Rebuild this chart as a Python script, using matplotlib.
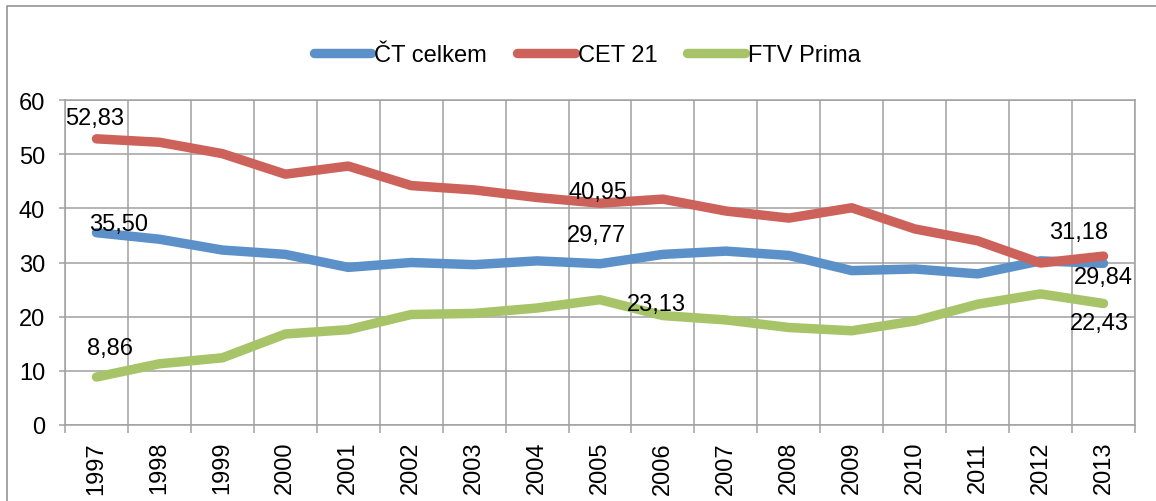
import matplotlib
matplotlib.use("Agg")
import matplotlib.pyplot as plt
from matplotlib.patches import Rectangle
from matplotlib.ticker import FixedLocator

plt.rcParams['font.family'] = ['Liberation Sans', 'DejaVu Sans']

years = ['1997', '1998', '1999', '2000', '2001', '2002', '2003', '2004', '2005',
         '2006', '2007', '2008', '2009', '2010', '2011', '2012', '2013']
ct_celkem = [35.50, 34.3, 32.3, 31.5, 29.1, 30.0, 29.6, 30.3, 29.77,
             31.5, 32.1, 31.3, 28.5, 28.8, 27.9, 30.3, 29.84]
cet21 = [52.83, 52.2, 50.1, 46.3, 47.8, 44.2, 43.4, 42.0, 40.95,
         41.7, 39.5, 38.2, 40.1, 36.2, 34.0, 29.9, 31.18]
ftv_prima = [8.86, 11.3, 12.4, 16.8, 17.6, 20.4, 20.6, 21.6, 23.13,
             20.2, 19.4, 18.0, 17.4, 19.2, 22.3, 24.2, 22.43]
series_names = ['ČT celkem', 'CET 21', 'FTV Prima']
colors = ['#5B90C9', '#CD625A', '#A7C469']

# labelled points: (series index, category index, text, dx px, dy px (center))
labels = [
    (1, 0, '52,83', -2, 23),
    (0, 0, '35,50', 22, 11),
    (2, 0, '8,86', 14, 31.5),
    (1, 8, '40,95', -2, 14),
    (0, 8, '29,77', -3, 31),
    (2, 8, '23,13', 56.5, -1.5),
    (1, 16, '31,18', -25, 26.7),
    (0, 16, '29,84', 0, -10.7),
    (2, 16, '22,43', -4, -17),
]

W, H = 1156, 502
fig = plt.figure(figsize=(W / 100, H / 100), dpi=100)
fig.patch.set_facecolor('white')

ax = fig.add_axes([65 / W, 1 - 426 / H, 1070 / W, 325 / H])
x = list(range(len(years)))
data = [ct_celkem, cet21, ftv_prima]
for vals, name, c in zip(data, series_names, colors):
    ax.plot(x, vals, color=c, lw=6.8, solid_capstyle='round',
            solid_joinstyle='round', label=name, zorder=3)

FS = 17
for si, ci, txt, dx, dy in labels:
    ax.annotate(txt, (x[ci], data[si][ci]), xytext=(dx, dy - 8.5),
                textcoords='offset pixels', ha='center', va='baseline',
                fontsize=FS, color='black', zorder=5)

ax.set_xlim(-0.5, len(years) - 0.5)
ax.set_ylim(0, 60)
ax.set_yticks(range(0, 61, 10))
ax.set_xticks(x)
ax.set_xticklabels(years, rotation=90)
ax.xaxis.set_minor_locator(FixedLocator([i - 0.5 for i in range(len(years) + 1)]))

gc = '#A0A0A0'
ax.grid(True, which='major', axis='y', color=gc, lw=1.1, zorder=1)
ax.grid(True, which='minor', axis='x', color=gc, lw=1.1, zorder=1)
for s in ax.spines.values():
    s.set_color(gc)
    s.set_linewidth(1.1)
    s.set_zorder(1)

ax.tick_params(axis='y', which='major', length=4.3, width=1.1, color=gc,
               pad=10, labelsize=FS, labelcolor='black')
ax.tick_params(axis='x', which='major', length=0, pad=11.5,
               labelsize=FS, labelcolor='black')
ax.tick_params(axis='x', which='minor', length=5.8, width=1.1, color=gc)

handles, lbls = ax.get_legend_handles_labels()
fig.legend(handles, lbls, loc='center', bbox_to_anchor=(587 / W, 1 - 56 / H),
           ncol=3, frameon=False, fontsize=FS, handlelength=2.45,
           handletextpad=0.13, columnspacing=1.25, borderaxespad=0)

fig.patches.append(Rectangle((7 / W, -0.1), 1.2, 1.1 - 7 / H,
                             transform=fig.transFigure, fill=False,
                             edgecolor='#8C8C8C', lw=1.1))

fig.savefig('out.png', dpi=100, facecolor='white')
